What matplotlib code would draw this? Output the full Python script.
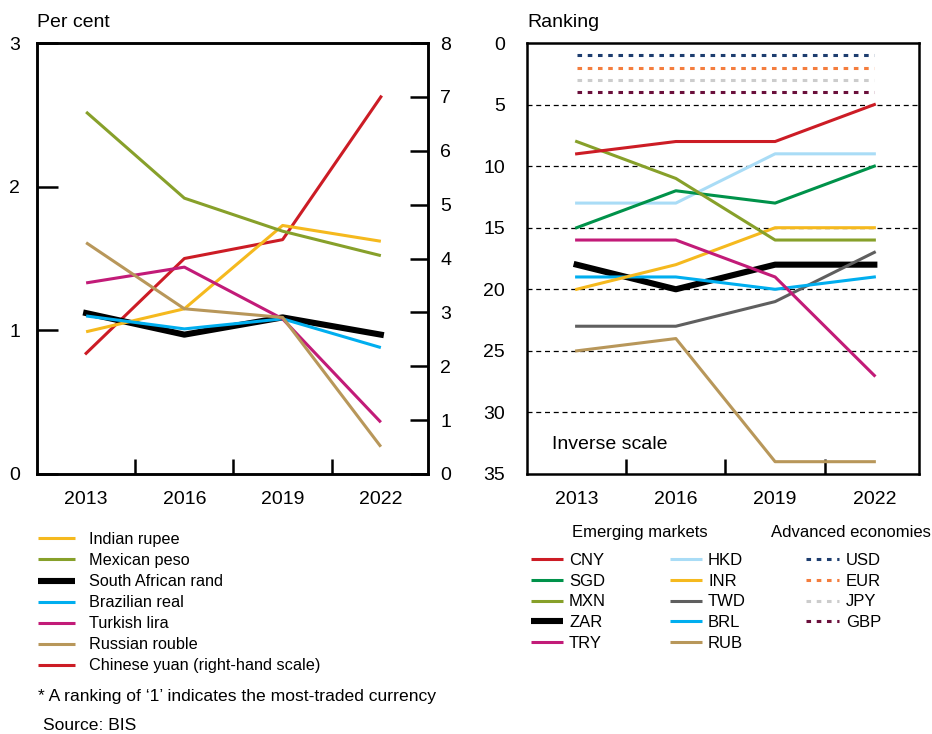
import matplotlib
matplotlib.use("Agg")
import matplotlib.pyplot as plt
import numpy as np

plt.rcParams["font.family"] = ["Liberation Sans", "DejaVu Sans"]

years = ["2013", "2016", "2019", "2022"]

# left panel: share of turnover, per cent (yuan on right-hand scale)
inr_share = [0.99, 1.15, 1.73, 1.62]
mxn_share = [2.52, 1.92, 1.69, 1.52]
zar_share = [1.12, 0.97, 1.09, 0.97]
brl_share = [1.10, 1.01, 1.08, 0.88]
try_share = [1.33, 1.44, 1.08, 0.36]
rub_share = [1.61, 1.15, 1.09, 0.19]
cny_share = [2.24, 4.0, 4.35, 7.0]

# right panel: ranking (inverse scale)
cny_rank = [9, 8, 8, 5]
sgd_rank = [15, 12, 13, 10]
mxn_rank = [8, 11, 16, 16]
zar_rank = [18, 20, 18, 18]
try_rank = [16, 16, 19, 27]
hkd_rank = [13, 13, 9, 9]
inr_rank = [20, 18, 15, 15]
twd_rank = [23, 23, 21, 17]
brl_rank = [19, 19, 20, 19]
rub_rank = [25, 24, 34, 34]
usd_rank = [1, 1, 1, 1]
eur_rank = [2, 2, 2, 2]
jpy_rank = [3, 3, 3, 3]
gbp_rank = [4, 4, 4, 4]

C = {
    "INR": "#f5b91e", "MXN": "#87a02a", "ZAR": "#000000", "BRL": "#00aeef",
    "TRY": "#c21b78", "RUB": "#b8975a", "CNY": "#cc1c25", "SGD": "#00924a",
    "HKD": "#a9dcf6", "TWD": "#5f5f5f", "USD": "#1d3d6f", "EUR": "#f47d3d",
    "JPY": "#cccccc", "GBP": "#6a0f3b",
}

W, H = 932, 734
LW, LW_THICK = 2.2, 4.4
DOT = (0, (1.5, 1.85))
TICK_FS = 14
LEG_FS = 11.7
LEG_R_FS = 12
NOTE_FS = 12.6


def fx(px):
    return px / W


def fy(py):
    return 1 - py / H


fig = plt.figure(figsize=(W / 100, H / 100), dpi=100)
axl = fig.add_axes([fx(37), fy(474), fx(428) - fx(37), fy(43) - fy(474)])
axr2 = axl.twinx()
axr = fig.add_axes([fx(527), fy(474), fx(919) - fx(527), fy(43) - fy(474)])

x = np.arange(len(years))

# ---- left panel
for vals, key in [(inr_share, "INR"), (mxn_share, "MXN"), (brl_share, "BRL"),
                  (try_share, "TRY"), (rub_share, "RUB")]:
    axl.plot(x, vals, color=C[key], lw=LW, solid_capstyle="butt", zorder=3)
axl.plot(x, zar_share, color=C["ZAR"], lw=LW_THICK, zorder=2)
axr2.plot(x, cny_share, color=C["CNY"], lw=LW, zorder=4)

axl.set_xlim(-0.5, 3.48)
axl.set_ylim(0, 3)
axr2.set_ylim(0, 8)
axl.set_yticks([0, 1, 2, 3])
axr2.set_yticks(range(9))
axl.set_xticks(x)
axl.set_xticklabels(years)
axl.set_xticks([0.5, 1.5, 2.5], minor=True)
axl.tick_params(axis="x", which="major", length=0, pad=12, labelsize=TICK_FS)
axl.tick_params(axis="x", which="minor", direction="in", length=11, width=1.8)
axl.tick_params(axis="y", direction="in", length=15, width=1.8, pad=12,
                labelsize=TICK_FS)
axr2.tick_params(axis="y", direction="in", length=13, width=1.8, pad=9,
                 labelsize=TICK_FS)
for a in (axl, axr2):
    for s in a.spines.values():
        s.set_linewidth(1.8)
axl.set_zorder(axr2.get_zorder() + 1)
axl.patch.set_visible(False)

# ---- right panel
for yv in [5, 10, 15, 20, 25, 30]:
    axr.axhline(yv, color="black", lw=0.9, ls=(0, (4, 3)), zorder=1)
for vals, key in [(usd_rank, "USD"), (eur_rank, "EUR"), (jpy_rank, "JPY"),
                  (gbp_rank, "GBP")]:
    axr.plot(x, vals, color=C[key], lw=LW, ls=DOT, dash_capstyle="butt", zorder=3)
for vals, key in [(rub_rank, "RUB"), (twd_rank, "TWD"), (brl_rank, "BRL"),
                  (inr_rank, "INR"), (try_rank, "TRY"), (hkd_rank, "HKD"),
                  (sgd_rank, "SGD"), (mxn_rank, "MXN"), (cny_rank, "CNY")]:
    axr.plot(x, vals, color=C[key], lw=LW, zorder=3)
axr.plot(x, zar_rank, color=C["ZAR"], lw=LW_THICK, zorder=2)

axr.set_xlim(-0.5, 3.45)
axr.set_ylim(35, 0)
axr.set_yticks(range(0, 36, 5))
axr.set_xticks(x)
axr.set_xticklabels(years)
axr.set_xticks([0.5, 1.5, 2.5], minor=True)
axr.tick_params(axis="x", which="major", length=0, pad=12, labelsize=TICK_FS)
axr.tick_params(axis="x", which="minor", direction="in", length=11, width=1.8)
axr.tick_params(axis="y", length=0, pad=16, labelsize=TICK_FS)
for s in axr.spines.values():
    s.set_linewidth(1.8)
axr.text(fx(552), fy(449), "Inverse scale", transform=fig.transFigure,
         fontsize=TICK_FS, va="baseline")

fig.text(fx(37), fy(27), "Per cent", fontsize=TICK_FS, va="baseline")
fig.text(fx(527), fy(27), "Ranking", fontsize=TICK_FS, va="baseline")

# ---- legends drawn on an overlay in pixel coordinates
ov = fig.add_axes([0, 0, 1, 1])
ov.set_xlim(0, W)
ov.set_ylim(H, 0)
ov.axis("off")

left_items = [("Indian rupee", "INR"), ("Mexican peso", "MXN"),
              ("South African rand", "ZAR"), ("Brazilian real", "BRL"),
              ("Turkish lira", "TRY"), ("Russian rouble", "RUB"),
              ("Chinese yuan (right-hand scale)", "CNY")]
for i, (lab, key) in enumerate(left_items):
    yy = 538.3 + i * 21.1
    ov.plot([38, 75], [yy, yy], color=C[key],
            lw=LW_THICK if key == "ZAR" else LW, solid_capstyle="butt")
    ov.text(89, yy + 5.5, lab, fontsize=LEG_FS, va="baseline")

ov.text(38, 701.5, "* A ranking of \u20181\u2019 indicates the most-traded currency",
        fontsize=NOTE_FS, va="baseline")
ov.text(43, 730, "Source: BIS", fontsize=NOTE_FS, va="baseline")

ov.text(640, 537, "Emerging markets", fontsize=LEG_R_FS, va="baseline", ha="center")
ov.text(771, 537, "Advanced economies", fontsize=LEG_R_FS, va="baseline")
col1 = ["CNY", "SGD", "MXN", "ZAR", "TRY"]
col2 = ["HKD", "INR", "TWD", "BRL", "RUB"]
col3 = ["USD", "EUR", "JPY", "GBP"]
for cols, x0, x1, xt, dotted in [(col1, 531, 563, 569, False),
                                 (col2, 670, 702, 708, False),
                                 (col3, 806, 839, 846, True)]:
    for i, key in enumerate(cols):
        yy = 559 + i * 20.8
        if dotted:
            ov.plot([x0, x1], [yy, yy], color=C[key], lw=LW, ls=DOT,
                    dash_capstyle="butt")
        else:
            ov.plot([x0, x1], [yy, yy], color=C[key],
                    lw=LW_THICK if key == "ZAR" else LW, solid_capstyle="butt")
        ov.text(xt, yy + 5.7, key, fontsize=LEG_R_FS, va="baseline")

fig.savefig("out.png", dpi=100)
